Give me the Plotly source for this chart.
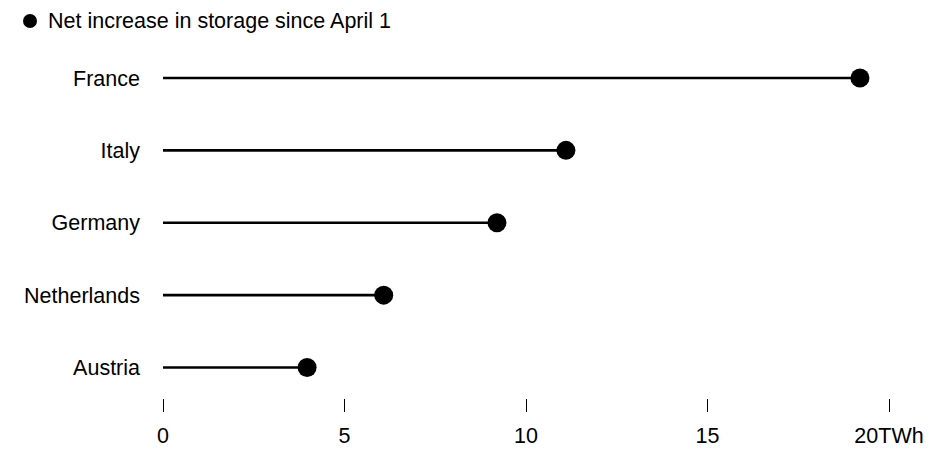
import plotly.graph_objects as go

countries = ["Austria", "Netherlands", "Germany", "Italy", "France"]
values = [3.97, 6.08, 9.2, 11.1, 19.2]
x_ticks = [0, 5, 10, 15, 20]
x_tick_labels = ["0", "5", "10", "15", "20TWh"]
legend_label = "Net increase in storage since April 1"

FONT = "Liberation Sans, Arial, sans-serif"
FS = 21.5

fig = go.Figure()

# stems
stem_x, stem_y = [], []
for c, v in zip(countries, values):
    stem_x += [0, v, None]
    stem_y += [c, c, None]
fig.add_trace(go.Scatter(
    x=stem_x, y=stem_y, mode="lines",
    line=dict(color="#000000", width=2.6),
    showlegend=False, hoverinfo="skip", cliponaxis=False,
))

# dots
fig.add_trace(go.Scatter(
    x=values, y=countries, mode="markers", name=legend_label,
    marker=dict(color="#000000", size=19, line=dict(width=0)),
    showlegend=False, cliponaxis=False,
))

# legend (glyph + label) placed above the plot
fig.add_shape(
    type="circle", xref="paper", yref="paper",
    xsizemode="pixel", ysizemode="pixel", xanchor=0, yanchor=1,
    x0=-140, x1=-126, y0=14, y1=28,
    fillcolor="#000000", line=dict(width=0),
)
fig.add_annotation(
    text=legend_label, xref="paper", yref="paper", x=0, y=1,
    xanchor="left", yanchor="middle", xshift=-116, yshift=21,
    showarrow=False, borderpad=0,
    font=dict(family=FONT, size=FS, color="#000000"),
)

fig.update_layout(
    width=940, height=468,
    margin=dict(l=155, r=59, t=34, b=78, autoexpand=False),
    paper_bgcolor="#ffffff", plot_bgcolor="#ffffff",
    font=dict(family=FONT, size=FS, color="#000000"),
    showlegend=False,
    xaxis=dict(
        range=[0, 20], tickmode="array", tickvals=x_ticks, ticktext=x_tick_labels,
        showgrid=False, zeroline=False, showline=False,
        ticks="outside", ticklen=13, tickwidth=1, tickcolor="#000000",
        ticklabelstandoff=5,
        tickfont=dict(family=FONT, size=FS, color="#000000"),
        fixedrange=True, automargin=False,
    ),
    yaxis=dict(
        type="category", categoryorder="array", categoryarray=countries,
        range=[-0.421, 4.497],
        showgrid=False, zeroline=False, showline=False,
        ticks="", ticklabelstandoff=22,
        tickfont=dict(family=FONT, size=FS, color="#000000"),
        fixedrange=True, automargin=False,
    ),
)

fig.write_html("out.html")
